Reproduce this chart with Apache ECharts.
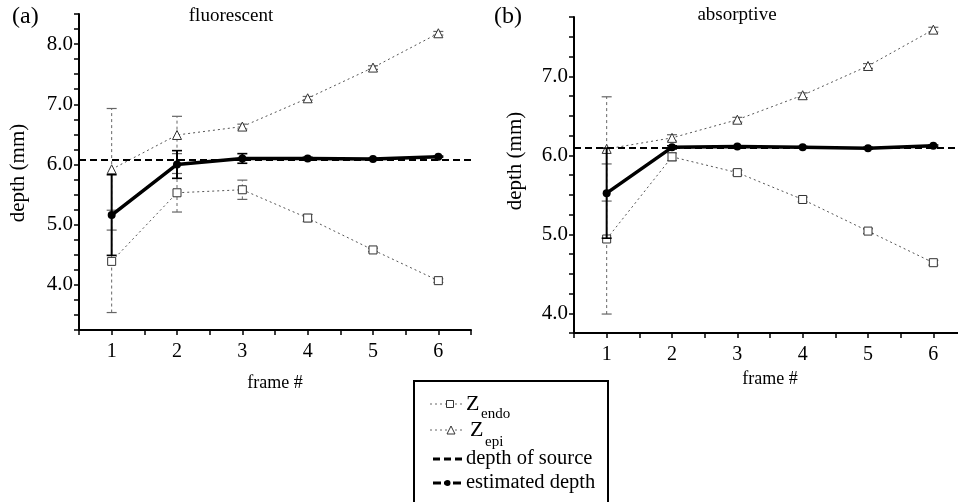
<!DOCTYPE html>
<html><head><meta charset="utf-8">
<script src="https://cdn.jsdelivr.net/npm/echarts@6/dist/echarts.min.js"></script>
<style>html,body{margin:0;padding:0;background:#fff}#c{width:958px;height:502px}</style>
</head><body><div id="c"></div>
<script>
const FONT = '"Liberation Serif","Times New Roman",serif';
const frames = [1, 2, 3, 4, 5, 6];
// panel (a) fluorescent
const aEndo = [4.39, 5.53, 5.58, 5.11, 4.58, 4.07];
const aEpi = [5.92, 6.49, 6.63, 7.10, 7.61, 8.18];
const aEst = [5.16, 6.00, 6.10, 6.10, 6.09, 6.13];
const aSrc = 6.08;
const aEndoErr = [0.85, 0.32, 0.16, 0.06, 0.03, 0.03];
const aEpiErr = [1.01, 0.31, 0.04, 0.03, 0.03, 0.03];
const aEstErr = [0.67, 0.23, 0.08, 0.02, 0.01, 0.01];
// panel (b) absorptive
const bEndo = [4.94, 5.98, 5.78, 5.44, 5.04, 4.64];
const bEpi = [6.08, 6.22, 6.45, 6.76, 7.13, 7.59];
const bEst = [5.52, 6.10, 6.11, 6.10, 6.09, 6.12];
const bSrc = 6.10;
const bEndoErr = [0.95, 0.05, 0.03, 0.03, 0.03, 0.03];
const bEpiErr = [0.66, 0.04, 0.03, 0.03, 0.03, 0.03];
const bEstErr = [0.57, 0.02, 0.01, 0.01, 0.01, 0.01];

const pts = v => frames.map((f, i) => [f, v[i]]);
const errs = (v, e) => frames.map((f, i) => [f, v[i] - e[i], v[i] + e[i]]);

function errRender(color, width, dash, cap) {
  return function (params, api) {
    const x = api.value(0), lo = api.value(1), hi = api.value(2);
    const p1 = api.coord([x, lo]), p2 = api.coord([x, hi]);
    const st = { stroke: color, lineWidth: width, lineDash: dash };
    const cs = { stroke: color, lineWidth: Math.max(1.2, width * 0.8) };
    return { type: 'group', children: [
      { type: 'line', shape: { x1: p1[0], y1: p1[1], x2: p2[0], y2: p2[1] }, style: st },
      { type: 'line', shape: { x1: p1[0] - cap, y1: p1[1], x2: p1[0] + cap, y2: p1[1] }, style: cs },
      { type: 'line', shape: { x1: p2[0] - cap, y1: p2[1], x2: p2[0] + cap, y2: p2[1] }, style: cs }
    ]};
  };
}

function xAxisDef(idx) {
  return {
    type: 'value', gridIndex: idx, min: 0.5, max: 6.5, interval: 0.5,
    name: 'frame #', nameLocation: 'middle', nameGap: idx === 0 ? 44 : 37,
    nameTextStyle: { fontFamily: FONT, fontSize: 18, color: '#000' },
    axisLine: { lineStyle: { color: '#000', width: 2 } },
    axisTick: { length: 5, lineStyle: { color: '#000', width: 1.5 } },
    axisLabel: { fontFamily: FONT, fontSize: 20, color: '#000', margin: 12,
      formatter: v => Math.abs(v - Math.round(v)) < 1e-6 ? String(Math.round(v)) : '' },
    splitLine: { show: false }
  };
}
function yAxisDef(idx, min, max) {
  return {
    type: 'value', gridIndex: idx, min: min, max: max, interval: 0.25,
    axisLine: { show: true, lineStyle: { color: '#000', width: 2 } },
    axisTick: { show: true, length: 5, lineStyle: { color: '#000', width: 1.5 } },
    axisLabel: { fontFamily: FONT, fontSize: 21, color: '#000', margin: 6,
      formatter: v => Math.abs(v - Math.round(v)) < 1e-6 ? v.toFixed(1) : '' },
    splitLine: { show: false }
  };
}

function panelSeries(idx, endo, epi, est, src, endoErr, epiErr, estErr) {
  const zLine = { color: '#555', width: 1, type: [2, 3] };
  return [
    { type: 'custom', xAxisIndex: idx, yAxisIndex: idx, renderItem: errRender('#666', 1, [3, 3], 5), data: errs(endo, endoErr), z: 2 },
    { type: 'custom', xAxisIndex: idx, yAxisIndex: idx, renderItem: errRender('#666', 1, [3, 3], 5), data: errs(epi, epiErr), z: 2 },
    { type: 'line', xAxisIndex: idx, yAxisIndex: idx, data: pts(endo), symbol: 'rect', symbolSize: 8,
      lineStyle: zLine, itemStyle: { color: '#fff', borderColor: '#333', borderWidth: 1 }, z: 3 },
    { type: 'line', xAxisIndex: idx, yAxisIndex: idx, data: pts(epi), symbol: 'triangle', symbolSize: 9,
      lineStyle: zLine, itemStyle: { color: '#fff', borderColor: '#333', borderWidth: 1 }, z: 3 },
    { type: 'custom', xAxisIndex: idx, yAxisIndex: idx, renderItem: errRender('#000', 2, null, 5), data: errs(est, estErr), z: 4 },
    { type: 'line', xAxisIndex: idx, yAxisIndex: idx, data: pts(est), symbol: 'circle', symbolSize: 8,
      lineStyle: { color: '#000', width: 3.5 }, itemStyle: { color: '#000' }, z: 5,
      markLine: { silent: true, symbol: 'none', label: { show: false },
        lineStyle: { color: '#000', width: 2, type: [7, 4] }, data: [{ yAxis: src }] } }
  ];
}

const txt = (x, y, s, size, extra) => Object.assign({ type: 'text', x: x, y: y,
  style: { text: s, fontFamily: FONT, fontSize: size, fill: '#000' } }, extra || {});

const legendG = [
  { type: 'rect', shape: { x: 414, y: 381, width: 194, height: 135 }, style: { fill: 'none', stroke: '#000', lineWidth: 2 } },
  { type: 'line', shape: { x1: 430, y1: 404, x2: 463, y2: 404 }, style: { stroke: '#666', lineWidth: 1, lineDash: [2, 3] } },
  { type: 'rect', shape: { x: 446.5, y: 400.5, width: 7, height: 7 }, style: { fill: '#fff', stroke: '#333', lineWidth: 1 } },
  { type: 'line', shape: { x1: 430, y1: 430, x2: 463, y2: 430 }, style: { stroke: '#666', lineWidth: 1, lineDash: [2, 3] } },
  { type: 'polygon', shape: { points: [[447, 434], [451, 426], [455, 434]] }, style: { fill: '#fff', stroke: '#333', lineWidth: 1 } },
  { type: 'line', shape: { x1: 433, y1: 459, x2: 463, y2: 459 }, style: { stroke: '#000', lineWidth: 3, lineDash: [7, 4] } },
  { type: 'line', shape: { x1: 433, y1: 483, x2: 463, y2: 483 }, style: { stroke: '#000', lineWidth: 3, lineDash: [8, 3, 6, 3] } },
  { type: 'circle', shape: { cx: 447.5, cy: 483, r: 3 }, style: { fill: '#000' } },
  txt(466, 393, 'Z', 22),
  txt(481, 407, 'endo', 15),
  txt(470, 419, 'Z', 22),
  txt(485, 435, 'epi', 15),
  txt(466, 448, 'depth of source', 20.5),
  txt(466, 472, 'estimated depth', 20.5)
];

const chart = echarts.init(document.getElementById('c'), null, { renderer: 'canvas' });
chart.setOption({
  animation: false,
  backgroundColor: '#fff',
  grid: [
    { left: 79, top: 14, width: 392, height: 316, outerBoundsMode: 'none', containLabel: false },
    { left: 574, top: 17, width: 392, height: 316, outerBoundsMode: 'none', containLabel: false }
  ],
  xAxis: [xAxisDef(0), xAxisDef(1)],
  yAxis: [yAxisDef(0, 3.25, 8.5), yAxisDef(1, 3.75, 7.75)],
  series: [].concat(
    panelSeries(0, aEndo, aEpi, aEst, aSrc, aEndoErr, aEpiErr, aEstErr),
    panelSeries(1, bEndo, bEpi, bEst, bSrc, bEndoErr, bEpiErr, bEstErr)
  ),
  graphic: [
    txt(12, 5, '(a)', 24),
    txt(231, 7, 'fluorescent', 19, { style: { text: 'fluorescent', fontFamily: FONT, fontSize: 19, fill: '#000', textAlign: 'center' } }),
    txt(494, 5, '(b)', 24),
    txt(737, 6, 'absorptive', 19, { style: { text: 'absorptive', fontFamily: FONT, fontSize: 19, fill: '#000', textAlign: 'center' } }),
    { type: 'text', x: 18, y: 173, rotation: Math.PI / 2,
      style: { text: 'depth (mm)', fontFamily: FONT, fontSize: 21, fill: '#000', textAlign: 'center', textVerticalAlign: 'middle' } },
    { type: 'text', x: 515, y: 161, rotation: Math.PI / 2,
      style: { text: 'depth (mm)', fontFamily: FONT, fontSize: 21, fill: '#000', textAlign: 'center', textVerticalAlign: 'middle' } }
  ].concat(legendG)
});
</script></body></html>
